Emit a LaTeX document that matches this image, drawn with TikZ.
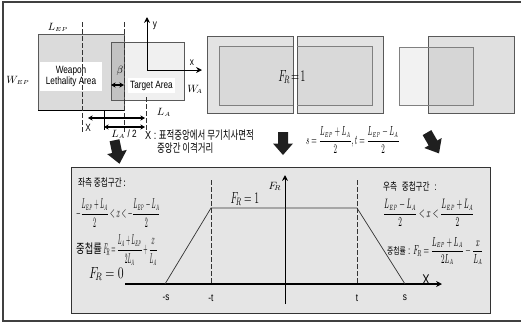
\documentclass[tikz,border=0pt]{standalone}
\usepackage{amsmath}
\usepackage{graphicx}
\usepackage{fontspec}
\setmainfont{Liberation Sans}[FakeStretch=0.78]
\newfontfamily\kr{Noto Sans CJK KR}[FakeStretch=0.72]
\usetikzlibrary{arrows.meta,positioning}

\newcommand{\Lep}{L_{\scriptscriptstyle EP}}
\newcommand{\La}{L_{\scriptscriptstyle A}}
\newcommand{\cfm}[3]{\scalebox{#1}[#2]{#3}}

\begin{document}
\begin{tikzpicture}[x=0.03cm,y=-0.03cm,>=Stealth,font=\fontsize{9}{10}\selectfont,
 box/.style={draw=black!65,line width=0.6pt},
 wbox/.style={fill=white,inner sep=0pt,align=center},
 dim/.style={<->,line width=0.9pt,>={Stealth[length=4pt,width=4.5pt]}},
 guide/.style={black!80,line width=0.5pt,dash pattern=on 4pt off 2pt},
 blk/.style={fill=black!88},
 ax/.style={->,line width=0.8pt,>={Stealth[length=5pt,width=5pt]}}]
\useasboundingbox (0,0) rectangle (521,326);
\draw[line width=1.1pt,black!75] (521,2) -- (3,2) -- (3,321) -- (521,321);

% lethality area vs target area
\fill[black!14] (38,34) rectangle (124,110);
\fill[black!6] (111,42) rectangle (184,100);
\fill[black!24] (111,42) rectangle (124,100);
\draw[box] (38,34) rectangle (124,110);
\draw[box] (111,42) rectangle (184,100);
\draw[black,line width=0.8pt] (38,110) -- (124,110);
\node[wbox,minimum width=1.86cm,minimum height=0.87cm] (wla) at (71,76.5) {Weapon\\Lethality Area};
\node[wbox,minimum width=1.41cm,minimum height=0.45cm] (ta) at (151.5,85.5) {Target Area};
\draw[guide] (82,22) -- (82,132);
\draw[guide] (124,22) -- (124,132);
\draw[guide] (146,97) -- (146,132);
\draw[black,line width=0.5pt] (104,110) -- (104,130);
\coordinate (o) at (147,70);
\coordinate (ytip) at (147,17);
\coordinate (xtip) at (202,70);
\draw[ax] (o) -- (ytip);
\draw[ax] (o) -- (xtip);
\node (ylab) at (155,26) {y};
\node (xlab) at (192,63) {x};
\node (lep) at (58,27) {$\Lep$};
\node (wep) at (18,80) {$W_{\scriptscriptstyle EP}$};
\node (wa) at (195,89) {$W_{\!\scriptscriptstyle A}$};
\node (la) at (164,112) {$\La$};
\node (beta) at (120,71) {$\beta$};
\coordinate (b1) at (111,85); \coordinate (b2) at (124,85);
\draw[dim] (b1) -- (b2);
\coordinate (x1) at (88,118); \coordinate (x2) at (145,118);
\draw[dim] (x1) -- (x2);
\coordinate (h1) at (104,127); \coordinate (h2) at (145,127);
\draw[dim] (h1) -- (h2);
\node (xl) at (88,128) {X};
\node (half) at (124,134) {$\La$ / 2};
\node[anchor=west,inner sep=0pt,font=\fontsize{10}{11}\selectfont] (note1) at (145,135) {X : {\kr 표적중앙에서 무기치사면적}};
\node[anchor=west,inner sep=0pt,font=\fontsize{10}{11}\selectfont] (note2) at (157,148) {\kr 중앙간 이격거리};

% full overlap
\fill[black!11] (207,36) rectangle (293,113);
\fill[black!11] (297,36) rectangle (383,113);
\fill[black!15] (219,46) rectangle (293,105);
\fill[black!15] (297,46) rectangle (372,105);
\draw[box] (207,36) rectangle (293,113);
\draw[box] (297,36) rectangle (383,113);
\draw[box,draw=black!50] (293,46) -- (219,46) -- (219,105) -- (293,105);
\draw[box,draw=black!50] (297,46) -- (372,46) -- (372,105) -- (297,105);
\node (fr1) at (292,77) {\large\cfm{0.75}{1.15}{$F_{\!R}\!=\!1$}};

% partial overlap on the right
\fill[black!12] (428,36) rectangle (514,113);
\fill[black!5] (399,47) rectangle (428,105);
\fill[black!16] (428,47) rectangle (473,105);
\draw[box] (428,36) rectangle (514,113);
\draw[box,draw=black!50] (399,47) rectangle (473,105);

% block arrows
\fill[blk,shift={(117,152)},rotate=12] (-5,-12) -- (5,-12) -- (5,0) -- (10,0) -- (0,12) -- (-10,0) -- (-5,0) -- cycle;
\fill[blk,shift={(283,143.5)}] (-5,-11.5) -- (5,-11.5) -- (5,0) -- (10,0) -- (0,11.5) -- (-10,0) -- (-5,0) -- cycle;
\fill[blk,shift={(433,143)},rotate=30] (-5,-12) -- (5,-12) -- (5,0) -- (10,0) -- (0,12) -- (-10,0) -- (-5,0) -- cycle;
\node[anchor=west,inner sep=0pt] (st) at (306,140) {\cfm{0.65}{1.25}{$s=\dfrac{\Lep+\La}{2},t=\dfrac{\Lep-\La}{2}$}};

% overlap ratio graph
\fill[black!10] (71,167) rectangle (490,313);
\draw[black!80,line width=0.7pt] (71,167) rectangle (490,313);
\node[anchor=west,inner sep=0pt] (lt) at (78,183) {\kr 좌측 중첩구간 :};
\node[anchor=west,inner sep=0pt] (lin) at (76,213) {\cfm{0.55}{1.35}{$-\dfrac{\Lep+\La}{2}<x<-\dfrac{\Lep-\La}{2}$}};
\node[anchor=west,inner sep=0pt] (lfr) at (76,250) {{\kr\fontsize{11}{12}\selectfont 중첩률}\,\cfm{0.5}{1.35}{$F_{\!R}=\dfrac{\La+\Lep}{2\La}+\dfrac{x}{\La}$}};
\node[anchor=west,inner sep=0pt] (rt) at (383,187) {{\kr 우측}\ \ {\kr 중첩구간}\ \ :};
\node[anchor=west,inner sep=0pt] (rin) at (383,213) {\cfm{0.67}{1.3}{$\dfrac{\Lep-\La}{2}<x<\dfrac{\Lep+\La}{2}$}};
\node[anchor=west,inner sep=0pt] (rfr) at (387,251) {{\kr\fontsize{8}{9}\selectfont 중첩률} : \cfm{0.65}{1.25}{$F_{\!R}=\dfrac{\Lep+\La}{2\La}-\dfrac{x}{\La}$}};
\coordinate (base0) at (125,284);
\coordinate (baseX) at (442,284);
\coordinate (ms) at (165,284);
\coordinate (mt) at (211,208);
\coordinate (pt) at (357,208);
\coordinate (ps) at (405,284);
\coordinate (fbot) at (285,304);
\coordinate (ftop) at (285,175);
\draw[ax,line width=0.9pt] (base0) -- (baseX);
\draw[ax] (fbot) -- (ftop);
\draw[black!80,line width=0.6pt] (ms) -- (mt) -- (pt) -- (ps);
\draw[guide] (211,180) -- (211,284);
\draw[guide] (357,180) -- (357,284);
\node[anchor=east,inner sep=0pt] (fr0) at (124,274) {\large\cfm{0.85}{1.15}{$F_{\!R}=0$}};
\node (frt) at (245,199) {\large\cfm{0.7}{1.15}{$F_{\!R}=1$}};
\node (fra) at (275,186) {$F_{\!R}$};
\node (xa) at (426,280) {\large X};
\node (tms) at (166,298) {-s};
\node (tmt) at (211,298) {-t};
\node (tpt) at (357,298) {t};
\node (tps) at (405,298) {s};
\end{tikzpicture}
\end{document}
